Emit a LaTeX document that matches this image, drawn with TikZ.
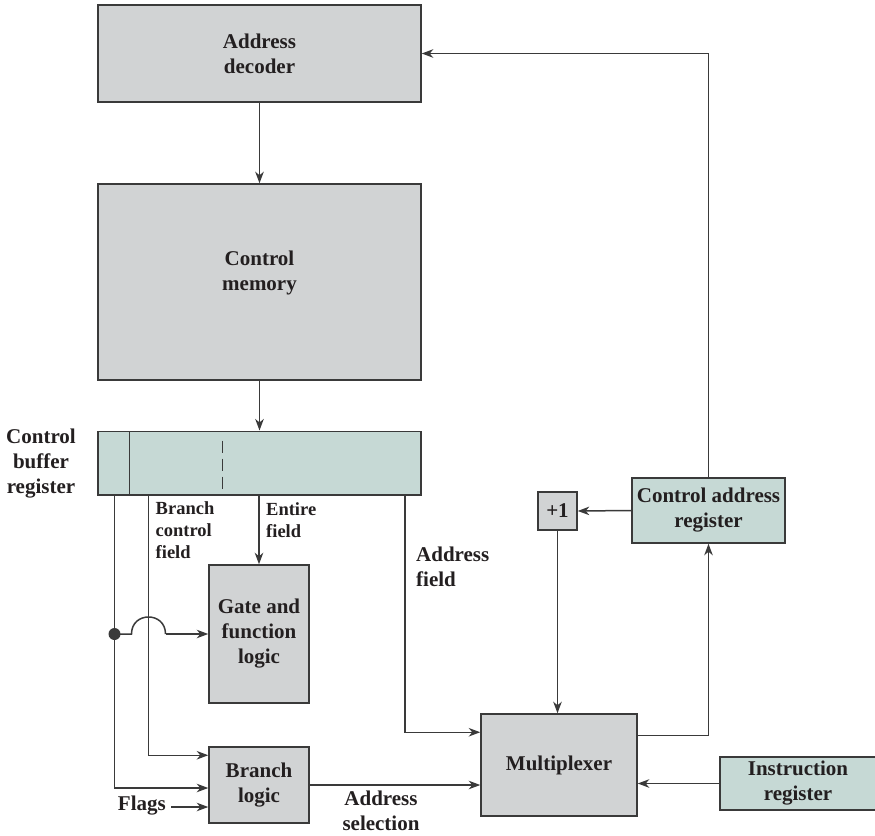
\documentclass[tikz,border=0pt]{standalone}
\usepackage{fontspec}
\setmainfont{Liberation Serif}
\usetikzlibrary{arrows.meta}
\definecolor{boxgray}{HTML}{D1D3D4}
\definecolor{boxteal}{HTML}{C6D9D5}
\definecolor{linec}{HTML}{3A3A3A}
\definecolor{textc}{HTML}{231F20}
\tikzset{
  graybox/.style={draw=linec, fill=boxgray, line width=1.5pt, inner sep=0pt, align=center,
    text=textc, font=\fontsize{21}{25}\selectfont\bfseries},
  tealbox/.style={graybox, fill=boxteal},
  conn/.style={draw=linec, line width=1.5pt},
  arr/.style={conn, -{Stealth[length=11.5pt,width=8.5pt,inset=3.5pt]}},
  lbl/.style={font=\fontsize{21}{25}\selectfont\bfseries, align=left, inner sep=0pt, text=textc},
  slbl/.style={font=\fontsize{18.5}{22}\selectfont\bfseries, align=left, inner sep=0pt, text=textc},
}
\begin{document}
\begin{tikzpicture}[x=1pt,y=-1pt]
\useasboundingbox (0,0) rectangle (875,835);
% boxes
\node[graybox, minimum width=323pt, minimum height=97pt] (dec) at (259.5,53.5) {Address\\decoder};
\node[graybox, minimum width=323pt, minimum height=196pt] (mem) at (259.5,282) {};
\node[lbl, align=center] (memt) at (259.5,273) {Control\\memory};
\node[tealbox, minimum width=323pt, minimum height=63.5pt] (cbr) at (259.5,463) {};
\node[graybox, minimum width=100pt, minimum height=138pt] (gate) at (259,634) {Gate and\\function\\logic};
\node[graybox, minimum width=100pt, minimum height=76pt] (branch) at (259,785) {Branch\\logic};
\node[graybox, minimum width=156pt, minimum height=102pt] (mux) at (559,765) {Multiplexer};
\node[graybox, minimum width=39pt, minimum height=38pt] (plus) at (557.5,511) {+1};
\node[tealbox, minimum width=153pt, minimum height=65pt] (car) at (708.5,510.5) {Control address\\register};
\node[tealbox, minimum width=156pt, minimum height=53pt] (ir) at (798,783.5) {Instruction\\register};
% dividers in control buffer register
\coordinate (d1t) at (129.5,431.5);
\coordinate (d1b) at (129.5,494.5);
\coordinate (d2t) at (222.5,431.5);
\coordinate (d2b) at (222.5,494.5);
\draw[conn] (d1t) -- (d1b);
\draw[conn, dash pattern=on 12pt off 6pt] ([yshift=-9pt]d2t) -- (d2b);
% labels
\node[lbl, align=center] (cbrl) at (41,464) {Control\\buffer\\register};
\node[slbl, anchor=north west] (bcf) at (155.5,501) {Branch\\control\\field};
\node[slbl, anchor=north west] (ef) at (266,502) {Entire\\field};
\node[lbl, anchor=north west] (afl) at (416,547) {Address\\field};
\node[lbl, align=center, anchor=north] (asel) at (381,791) {Address\\selection};
% vertical main connectors
\draw[arr] (dec.south) -- (mem.north);
\draw[arr] (mem.south) -- (cbr.north);
\draw[arr] (cbr.south -| gate.north) -- (gate.north);
% feedback to decoder
\draw[arr] (car.north) |- (dec.east);
\draw[arr] (car.west) -- (plus.east);
\draw[arr] (plus.south) -- (plus.south |- mux.north);
\draw[arr] ([yshift=-22pt]mux.north east) -| (car.south);
\draw[arr] (ir.west) -- (ir.west -| mux.east);
% address field
\coordinate (af) at (405,494.5);
\draw[arr] (af) |- ([yshift=-19pt]mux.north west);
% branch control field line
\coordinate (bc) at (148.5,494.5);
\draw[arr] (bc) |- ([yshift=-9pt]branch.north west);
% left line with junction
\coordinate (lf) at (114.5,494.5);
\coordinate (jn) at (114.5,634);
\draw[arr] (lf) |- ([yshift=-3pt]branch.west);
\fill[linec] (jn) circle (6pt);
\coordinate (j1) at (131.5,634);
\coordinate (j2) at (165.5,634);
\draw[conn] (jn) -- (j1) .. controls (131.5,611.3) and (165.5,611.3) .. (j2);
\draw[arr] (j2) -- (gate.west);
% flags
\coordinate (fl) at (171,807);
\node[lbl, anchor=east] (flags) at (166,806) {Flags};
\draw[arr] (fl) -- (fl -| branch.west);
% branch logic output
\draw[arr] (branch.east) -- (branch.east -| mux.west);
\end{tikzpicture}
\end{document}
